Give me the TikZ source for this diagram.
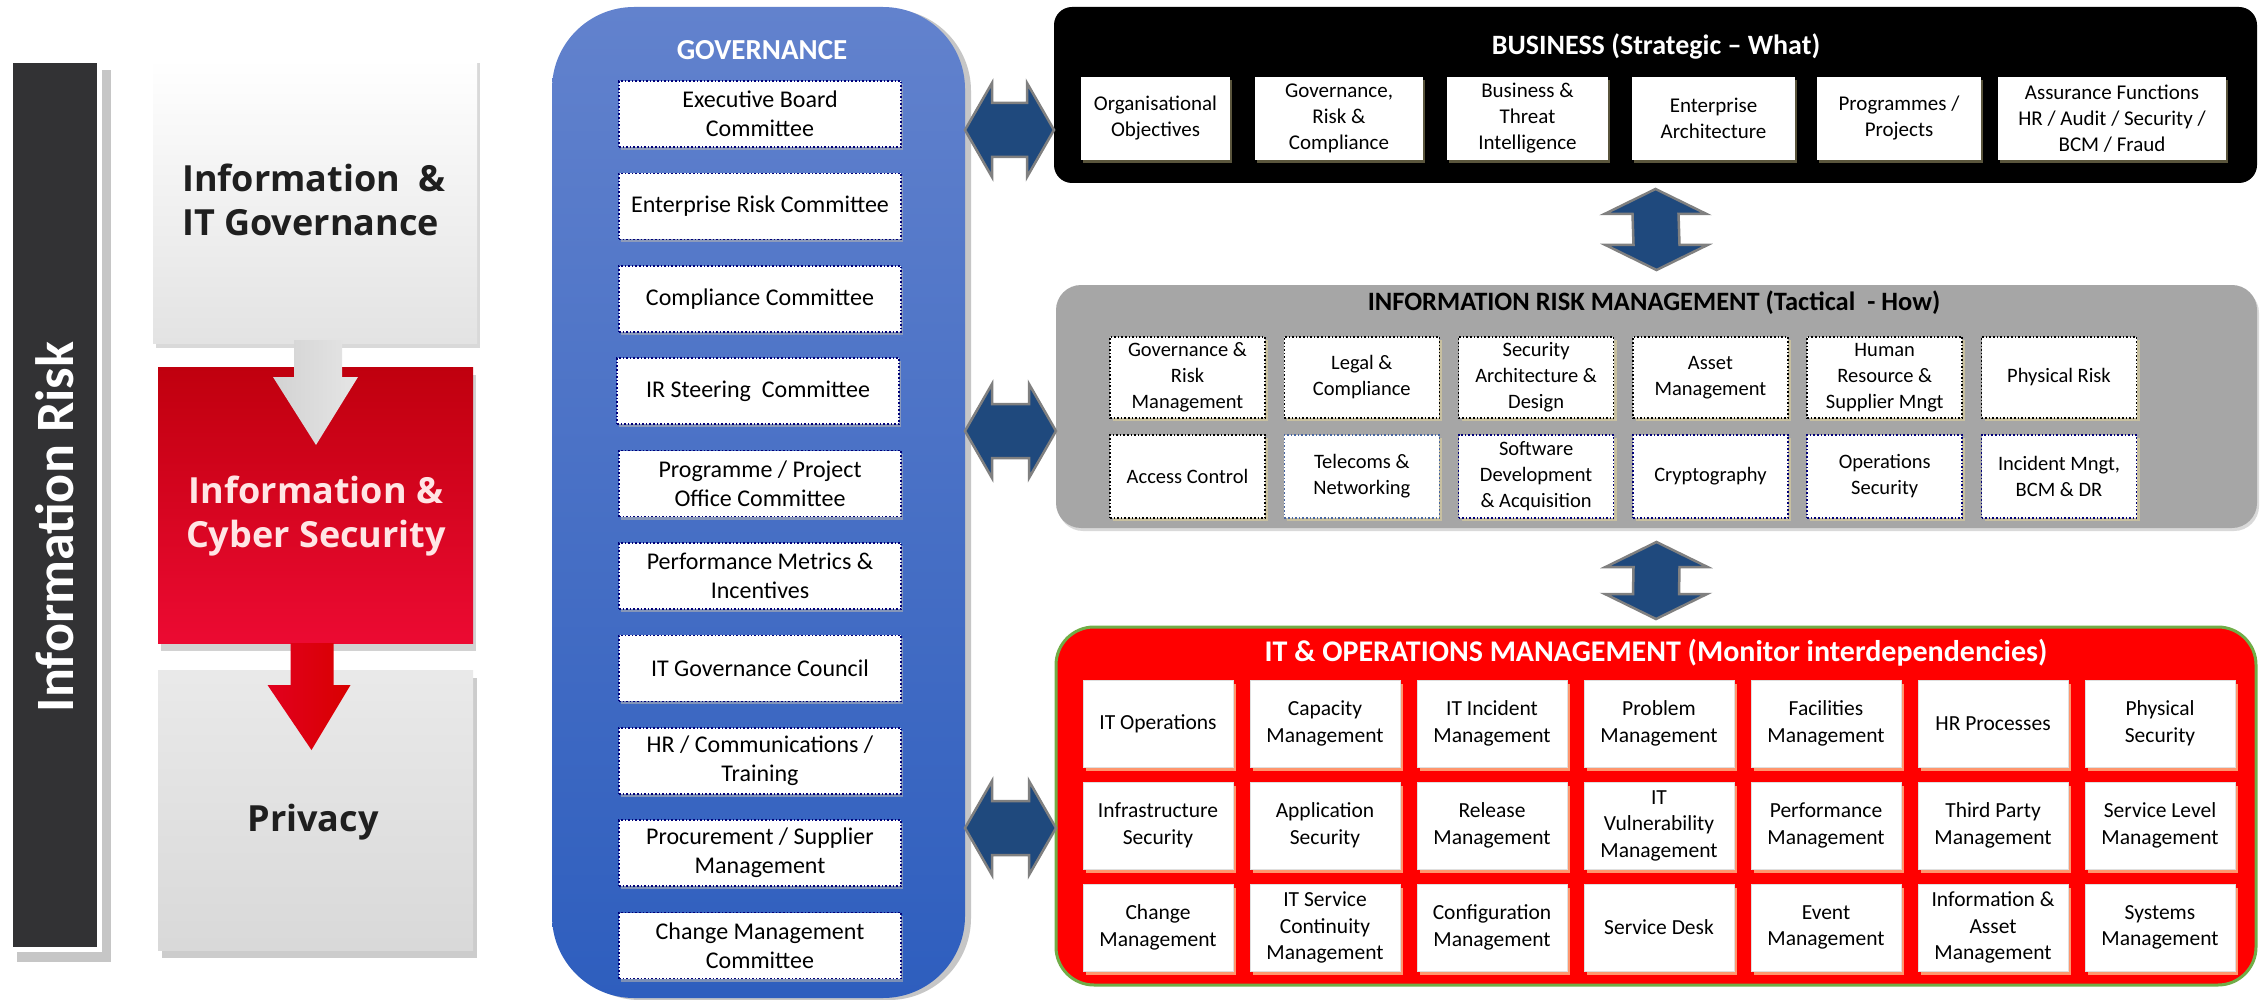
\documentclass[tikz,border=0pt]{standalone}
\usepackage{fontspec}
\setmainfont{Carlito}
\newfontfamily\leftfont{Open Sans}
\usetikzlibrary{calc,shadows}
\definecolor{govtop}{RGB}{98,130,205}
\definecolor{govbot}{RGB}{46,94,190}
\definecolor{dotnavy}{RGB}{0,0,120}
\definecolor{dotblue}{RGB}{70,100,160}
\definecolor{arrowblue}{RGB}{31,73,125}
\definecolor{arrowedge}{RGB}{128,128,128}
\definecolor{irmgray}{RGB}{166,166,166}
\definecolor{itgreen}{RGB}{112,173,71}
\definecolor{tanshadow}{RGB}{200,192,160}
\definecolor{olivesh}{RGB}{90,85,60}
\definecolor{orangesh}{RGB}{255,150,110}
\definecolor{barcol}{RGB}{50,50,52}
\definecolor{icstop}{RGB}{192,0,14}
\definecolor{icsbot}{RGB}{236,10,50}
\definecolor{redarrow}{RGB}{225,0,30}
\newcommand\hdarrow[2]{%
  \draw[dblarrow] (#1) -- ($(#1)+(27,-47)$) -- ($(#1)+(27,-27)$) -- ($(#2)+(-27,-27)$)
    -- ($(#2)+(-27,-47)$) -- (#2) -- ($(#2)+(-27,47)$) -- ($(#2)+(-27,27)$)
    -- ($(#1)+(27,27)$) -- ($(#1)+(27,47)$) -- cycle;}
\newcommand\vdarrow[2]{%
  \draw[dblarrow] (#1) -- ($(#1)+(51,25)$) -- ($(#1)+(23,25)$) -- ($(#2)+(23,-25)$)
    -- ($(#2)+(51,-25)$) -- (#2) -- ($(#2)+(-51,-25)$) -- ($(#2)+(-23,-25)$)
    -- ($(#1)+(-23,25)$) -- ($(#1)+(-51,25)$) -- cycle;}
\begin{document}
\begin{tikzpicture}[x=1pt,y=-1pt,
  base/.style={inner sep=0pt, outer sep=0pt, anchor=north west, align=center},
  govpanel/.style={base, top color=govtop, bottom color=govbot, rounded corners=82pt,
    minimum width=413pt, minimum height=991pt,
    drop shadow={shadow xshift=6pt, shadow yshift=-2pt, fill=gray!45, opacity=1}},
  gbox/.style={base, fill=white, draw=dotnavy, dotted, line width=1.6pt,
    minimum width=282pt, minimum height=66pt, font=\fontsize{24}{29}\selectfont,
    drop shadow={shadow xshift=2pt, shadow yshift=-3pt, fill=gray!60, opacity=.6}},
  gtitle/.style={text=white, font=\bfseries\fontsize{29}{34}\selectfont},
  bizpanel/.style={base, fill=black, rounded corners=18pt, minimum width=1203pt, minimum height=176pt},
  bbox/.style={base, fill=white, minimum height=83pt, font=\fontsize{21}{26}\selectfont,
    drop shadow={shadow xshift=2pt, shadow yshift=-3pt, fill=olivesh, opacity=1}},
  irmpanel/.style={base, fill=irmgray, rounded corners=25pt, minimum width=1201pt, minimum height=243pt,
    drop shadow={shadow xshift=2pt, shadow yshift=-3pt, fill=gray!30, opacity=1}},
  ibox/.style={base, fill=white, draw=black, dotted, line width=1.6pt, minimum width=155pt,
    font=\fontsize{20.5}{26}\selectfont,
    drop shadow={shadow xshift=3pt, shadow yshift=-3pt, fill=tanshadow, opacity=1}},
  itpanel/.style={base, fill=red, draw=itgreen, line width=3pt, rounded corners=38pt,
    minimum width=1200pt, minimum height=358pt},
  obox/.style={base, fill=white, draw=gray!25, line width=.6pt, minimum width=150pt, minimum height=87pt,
    font=\fontsize{21.5}{26.5}\selectfont,
    drop shadow={shadow xshift=3pt, shadow yshift=-4pt, fill=orangesh, opacity=1}},
  ptitle/.style={font=\bfseries\fontsize{28}{32}\selectfont},
  dblarrow/.style={fill=arrowblue, draw=arrowedge, line width=2.5pt, line join=miter},
  lbig/.style={font=\leftfont\bfseries\fontsize{36}{44}\selectfont}
]
\useasboundingbox (0,0) rectangle (2261,1000);
\fill[white] (0,0) rectangle (2261,1000);

% ---------------- left panel ----------------
\fill[gray!45] (102,70) rectangle (111,962);
\fill[gray!45] (17,952) rectangle (111,962);
\node[base, fill=barcol, minimum width=84pt, minimum height=884pt] (irbar) at (13,63) {};
\node[rotate=90, text=white, font=\bfseries\fontsize{54}{60}\selectfont] (irlabel) at (55,527) {Information Risk};

\node[base, top color=white, bottom color=gray!22, minimum width=324pt, minimum height=285pt,
  drop shadow={shadow xshift=3pt, shadow yshift=-5pt, fill=gray!30, opacity=1}] (igov) at (153,58) {};
\node[lbig, align=left, text=black!88] (igovt) at (314,200) {Information~~\&\\IT Governance};

\node[base, top color=icstop, bottom color=icsbot, minimum width=315pt, minimum height=276pt,
  drop shadow={shadow xshift=3pt, shadow yshift=-8pt, fill=gray!35, opacity=1}] (ics) at (158,367) {};
\node[lbig, align=center, text=white!90!red] (icst) at (316,516) {Information \&\\Cyber Security};

\node[base, top color=gray!17, bottom color=gray!30, minimum width=315pt, minimum height=280pt,
  drop shadow={shadow xshift=4pt, shadow yshift=-8pt, fill=gray!40, opacity=1}] (priv) at (158,670) {};
\node[lbig, text=black!88] (privt) at (313,822) {Privacy};

\coordinate (ga) at (igov.south);
\shade[left color=gray!35, right color=gray!20]
  ($(ga)+(-21,-3)$) -- ($(ga)+(27,-3)$) -- ($(ga)+(27,34)$) -- ($(ga)+(43,34)$) -- ($(ga)+(1,102)$)
  -- ($(ga)+(-42,34)$) -- ($(ga)+(-21,34)$) -- cycle;
\coordinate (ra) at (ics.south);
\shade[left color=redarrow, right color=red!85!black]
  ($(ra)+(-25,0)$) -- ($(ra)+(18,0)$) -- ($(ra)+(18,42)$) -- ($(ra)+(35,42)$) -- ($(ra)+(-4,107)$)
  -- ($(ra)+(-48,42)$) -- ($(ra)+(-25,42)$) -- cycle;

% ---------------- governance ----------------
\node[govpanel] (gov) at (552,7) {};
\node[gtitle] (govt) at (762,50) {GOVERNANCE};
\node[gbox] (g1) at (619,81) {Executive Board\\Committee};
\node[gbox] (g2) at (619,173.4) {Enterprise Risk Committee};
\node[gbox] (g3) at (619,265.8) {Compliance Committee};
\node[gbox] (g4) at (617,358.2) {IR Steering~ Committee};
\node[gbox] (g5) at (619,450.6) {Programme / Project\\Office Committee};
\node[gbox] (g6) at (619,543) {Performance Metrics \&\\Incentives};
\node[gbox] (g7) at (619,635.4) {IT Governance Council};
\node[gbox] (g8) at (619,727.8) {HR / Communications /\\Training};
\node[gbox] (g9) at (619,820.2) {Procurement / Supplier\\Management};
\node[gbox] (g10) at (619,912.6) {Change Management\\Committee};

% ---------------- business ----------------
\node[bizpanel] (biz) at (1054,7) {};
\node[ptitle, text=white] (bizt) at (1656,46) {BUSINESS (Strategic – What)};
\node[bbox, minimum width=149pt] (b1) at (1081,77) {Organisational\\Objectives};
\node[bbox, minimum width=168pt] (b2) at (1255,77) {Governance,\\Risk \&\\Compliance};
\node[bbox, minimum width=161pt] (b3) at (1447,77) {Business \&\\Threat\\Intelligence};
\node[bbox, minimum width=163pt] (b4) at (1632,77) {Enterprise\\Architecture};
\node[bbox, minimum width=164pt] (b5) at (1817,77) {Programmes /\\Projects};
\node[bbox, minimum width=228pt] (b6) at (1998,77) {Assurance Functions\\HR / Audit / Security /\\BCM / Fraud};

% ---------------- information risk management ----------------
\node[irmpanel] (irm) at (1056,285) {};
\node[ptitle, font=\bfseries\fontsize{26.5}{30}\selectfont] (irmt) at (1654,303) {INFORMATION RISK MANAGEMENT (Tactical~ - How)};
\node[ibox, minimum height=81pt] (r1) at (1110,337) {Governance \&\\Risk\\Management};
\node[ibox, minimum height=81pt] (r2) at (1284.3,337) {Legal \&\\Compliance};
\node[ibox, minimum height=81pt] (r3) at (1458.6,337) {Security\\Architecture \&\\Design};
\node[ibox, minimum height=81pt] (r4) at (1632.9,337) {Asset\\Management};
\node[ibox, minimum height=81pt] (r5) at (1807.2,337) {Human\\Resource \&\\Supplier Mngt};
\node[ibox, minimum height=81pt] (r6) at (1981.5,337) {Physical Risk};
\node[ibox, minimum height=83pt] (r7) at (1110,435) {Access Control};
\node[ibox, minimum height=83pt, draw=dotblue] (r8) at (1284.3,435) {Telecoms \&\\Networking};
\node[ibox, minimum height=83pt, draw=dotnavy] (r9) at (1458.6,435) {Software\\Development\\\& Acquisition};
\node[ibox, minimum height=83pt, draw=dotnavy] (r10) at (1632.9,435) {Cryptography};
\node[ibox, minimum height=83pt, draw=dotnavy] (r11) at (1807.2,435) {Operations\\Security};
\node[ibox, minimum height=83pt, draw=dotnavy] (r12) at (1981.5,435) {Incident Mngt,\\BCM \& DR};

% ---------------- IT & operations ----------------
\node[itpanel] (itops) at (1056,627) {};
\node[ptitle, text=white, font=\bfseries\fontsize{30}{34}\selectfont] (itt) at (1656,653) {IT \& OPERATIONS MANAGEMENT (Monitor interdependencies)};
\node[obox] (o1) at (1083,680) {IT Operations};
\node[obox] (o2) at (1250,680) {Capacity\\Management};
\node[obox] (o3) at (1417,680) {IT Incident\\Management};
\node[obox] (o4) at (1584,680) {Problem\\Management};
\node[obox] (o5) at (1751,680) {Facilities\\Management};
\node[obox] (o6) at (1918,680) {HR Processes};
\node[obox] (o7) at (2085,680) {Physical\\Security};
\node[obox] (o8) at (1083,782) {Infrastructure\\Security};
\node[obox] (o9) at (1250,782) {Application\\Security};
\node[obox] (o10) at (1417,782) {Release\\Management};
\node[obox] (o11) at (1584,782) {IT\\Vulnerability\\Management};
\node[obox] (o12) at (1751,782) {Performance\\Management};
\node[obox] (o13) at (1918,782) {Third Party\\Management};
\node[obox] (o14) at (2085,782) {Service Level\\Management};
\node[obox] (o15) at (1083,884) {Change\\Management};
\node[obox] (o16) at (1250,884) {IT Service\\Continuity\\Management};
\node[obox] (o17) at (1417,884) {Configuration\\Management};
\node[obox] (o18) at (1584,884) {Service Desk};
\node[obox] (o19) at (1751,884) {Event\\Management};
\node[obox] (o20) at (1918,884) {Information \&\\Asset\\Management};
\node[obox] (o21) at (2085,884) {Systems\\Management};

% ---------------- connectors ----------------
\coordinate (h1l) at (gov.east |- 0,130);
\coordinate (h1r) at (biz.west |- 0,130);
\coordinate (h2l) at (gov.east |- 0,431);
\coordinate (h2r) at (irm.west |- 0,431);
\coordinate (h3l) at (gov.east |- 0,828);
\coordinate (h3r) at (itops.west |- 0,828);
\hdarrow{h1l}{h1r}
\hdarrow{h2l}{h2r}
\hdarrow{h3l}{h3r}
\coordinate (v1t) at ($(biz.south)+(0,6)$);
\coordinate (v1b) at ($(irm.north)+(0,-15)$);
\coordinate (v2t) at ($(irm.south)+(0,14)$);
\coordinate (v2b) at ($(itops.north)+(0,-8)$);
\vdarrow{v1t}{v1b}
\vdarrow{v2t}{v2b}
\end{tikzpicture}
\end{document}
